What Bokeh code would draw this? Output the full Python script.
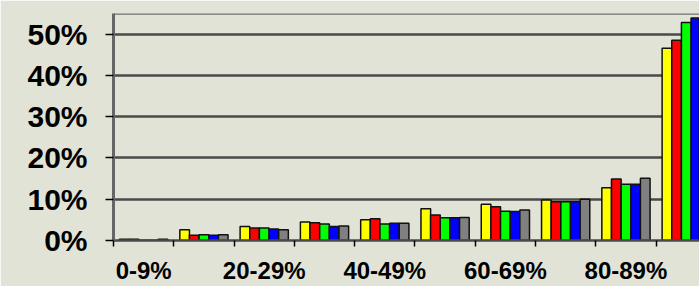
from bokeh.plotting import figure
from bokeh.models import Range1d, FixedTicker, Span, ColumnDataSource
from bokeh.transform import dodge
from bokeh.embed import file_html
from bokeh.resources import INLINE

categories = ["0-9%", "10-19%", "20-29%", "30-39%", "40-49%",
              "50-59%", "60-69%", "70-79%", "80-89%", "90-100%"]
series_yellow = [0.3, 2.6, 3.4, 4.5, 5.0, 7.7, 8.8, 9.8, 12.8, 46.6]
series_red = [0.3, 1.3, 3.0, 4.3, 5.3, 6.2, 8.2, 9.4, 14.9, 48.5]
series_green = [0.05, 1.4, 3.0, 4.0, 4.0, 5.5, 7.1, 9.4, 13.6, 52.8]
series_blue = [0.05, 1.3, 2.8, 3.4, 4.2, 5.5, 7.0, 9.4, 13.6, 53.9]
series_gray = [0.3, 1.4, 2.6, 3.5, 4.2, 5.6, 7.4, 10.0, 15.1, 54.0]
y_ticks = [0, 10, 20, 30, 40, 50]

bg = "#e2e3d7"
idx = list(range(len(categories)))
source = ColumnDataSource(dict(
    pos=[i + 0.5 for i in idx],
    yellow=series_yellow, red=series_red, green=series_green,
    blue=series_blue, gray=series_gray,
))

p = figure(width=699, height=286,
           x_range=Range1d(0, 9.72), y_range=Range1d(0, 55),
           output_backend="svg", toolbar_location=None,
           min_border_left=113, min_border_right=0,
           min_border_top=13, min_border_bottom=43,
           background_fill_color=bg, border_fill_color=bg)
p.outline_line_color = None

series = [("yellow", "#ffff00"), ("red", "#ff0000"), ("green", "#00ff00"),
          ("blue", "#0000ff"), ("gray", "#808080")]
offsets = [-0.32, -0.16, 0.0, 0.16, 0.32]
for (col, color), off in zip(series, offsets):
    p.vbar(x=dodge("pos", off, range=p.x_range), top=col, width=0.16,
           bottom=0, source=source, fill_color=color,
           line_color="#111111", line_width=1.5)

# grid
p.xgrid.visible = False
p.ygrid.ticker = FixedTicker(ticks=y_ticks)
p.ygrid.grid_line_color = "#4a4a4a"
p.ygrid.grid_line_width = 2.5
p.add_layout(Span(location=55, dimension="width", line_color="#6e6e6e", line_width=2.5))

# y axis
p.yaxis.ticker = FixedTicker(ticks=y_ticks)
p.yaxis.major_label_overrides = {t: f"{t}%" for t in y_ticks}
p.yaxis.major_label_text_font = "Liberation Sans"
p.yaxis.major_label_text_font_style = "bold"
p.yaxis.major_label_text_font_size = "30px"
p.yaxis.major_label_text_color = "#000000"
p.yaxis.major_label_standoff = 18
p.yaxis.major_tick_out = 8
p.yaxis.major_tick_in = 0
p.yaxis.major_tick_line_color = "#000000"
p.yaxis.major_tick_line_width = 1.5
p.yaxis.minor_tick_line_color = None
p.yaxis.axis_line_color = "#666666"
p.yaxis.axis_line_width = 3

# x axis
label_pos = [i + 0.5 for i in idx if i % 2 == 0]
p.xaxis.ticker = FixedTicker(ticks=label_pos, minor_ticks=[float(i) for i in idx])
p.xaxis.major_label_overrides = {i + 0.5: categories[i] for i in idx if i % 2 == 0}
p.xaxis.major_label_text_font = "Liberation Sans"
p.xaxis.major_label_text_font_style = "bold"
p.xaxis.major_label_text_font_size = "24px"
p.xaxis.major_label_text_color = "#000000"
p.xaxis.major_label_standoff = 10
p.xaxis.major_tick_out = 0
p.xaxis.major_tick_in = 0
p.xaxis.major_tick_line_color = None
p.xaxis.minor_tick_out = 6
p.xaxis.minor_tick_in = 0
p.xaxis.minor_tick_line_color = "#000000"
p.xaxis.minor_tick_line_width = 1.5
p.xaxis.axis_line_color = "#4a4a4a"
p.xaxis.axis_line_width = 2.5

open("out.html", "w").write(file_html(p, INLINE))
